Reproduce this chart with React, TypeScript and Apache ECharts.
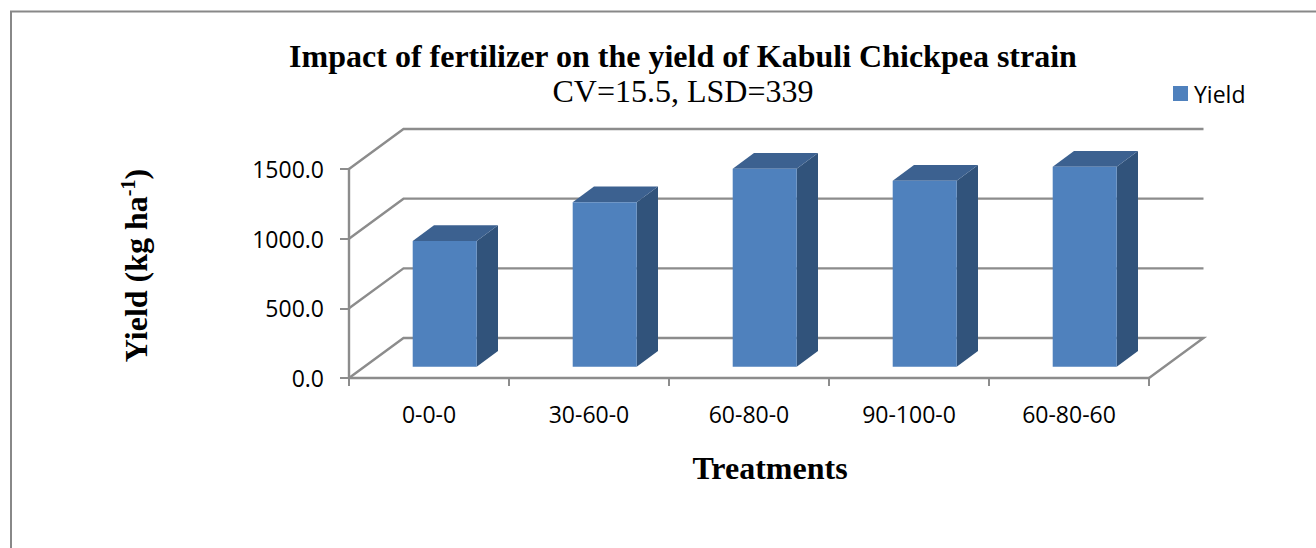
import React, { useEffect, useRef } from "react";
import * as echarts from "echarts";

const categories = ["0-0-0", "30-60-0", "60-80-0", "90-100-0", "60-80-60"];
const yieldValues = [902, 1180, 1421, 1335, 1435];
const gridTicks = [0, 500, 1000, 1500];

const FRONT = "#4F81BD";
const TOP = "#3C6190";
const SIDE = "#31537B";
const LINE = "#8C8C8C";
const SERIF = "'Liberation Serif', 'Times New Roman', serif";
const SANS = "'Open Sans', 'Noto Sans', sans-serif";

// projection of the pseudo-3D box, in pixels
const WALL_DX = 54.5;
const WALL_DY = -40;
const BAR_DX = 15.7;
const BAR_DY = -11.3;
const DEPTH_DX = 21.3;
const DEPTH_DY = -15.7;
const BAR_WIDTH = 64;

export default function App() {
  const ref = useRef<HTMLDivElement>(null);
  useEffect(() => {
    const chart = echarts.init(ref.current!, undefined, { renderer: "svg" });
    chart.setOption({
      animation: false,
      backgroundColor: "#FFFFFF",
      title: {
        text: "Impact of fertilizer on the yield of Kabuli Chickpea strain",
        subtext: "CV=15.5, LSD=339",
        left: 678,
        top: 34,
        textAlign: "center",
        itemGap: 2,
        textStyle: { fontFamily: SERIF, fontWeight: "bold", fontSize: 32, color: "#000", lineHeight: 34 },
        subtextStyle: { fontFamily: SERIF, fontWeight: "normal", fontSize: 32, color: "#000", lineHeight: 32 },
      },
      legend: {
        left: 1173,
        top: 82,
        padding: 0,
        icon: "rect",
        itemWidth: 15,
        itemHeight: 15,
        itemGap: 6,
        data: [{ name: "Yield", itemStyle: { color: FRONT } }],
        textStyle: { fontFamily: SANS, fontSize: 23, color: "#000", padding: [0, 0, 0, 1] },
      },
      grid: { left: 349, top: 169, width: 800, height: 209, containLabel: false },
      xAxis: {
        type: "category",
        data: categories,
        axisLine: { lineStyle: { color: LINE, width: 2.4 } },
        axisTick: { show: true, alignWithLabel: false, length: 8, lineStyle: { color: LINE, width: 2 } },
        axisLabel: { fontFamily: SANS, fontSize: 23, color: "#000", margin: 24 },
        name: "Treatments",
        nameLocation: "middle",
        nameGap: 74,
        nameTextStyle: { fontFamily: SERIF, fontWeight: "bold", fontSize: 32, color: "#000", padding: [0, 0, 0, 42] },
      },
      yAxis: {
        type: "value",
        min: 0,
        max: 1500,
        interval: 500,
        splitLine: { show: false },
        axisLine: { show: true, lineStyle: { color: LINE, width: 2.4 } },
        axisTick: { show: true, length: 9, lineStyle: { color: LINE, width: 2 } },
        axisLabel: { fontFamily: SANS, fontSize: 23, color: "#000", margin: 25, formatter: (v: number) => v.toFixed(1) },
        name: "{b|Yield (kg ha}{s|-1}{b|)}",
        nameLocation: "middle",
        nameRotate: 90,
        nameGap: 195,
        nameTextStyle: {
          padding: [0, 0, 0, 16],
          rich: {
            b: { fontFamily: SERIF, fontWeight: "bold", fontSize: 32, color: "#000", lineHeight: 36 },
            s: { fontFamily: SERIF, fontWeight: "bold", fontSize: 20, color: "#000", lineHeight: 36, verticalAlign: "top" },
          },
        },
      },
      series: [
        {
          name: "walls",
          type: "custom",
          silent: true,
          z: 1,
          encode: { y: 0 },
          data: gridTicks.map((t) => [t]),
          renderItem: (params: any, api: any) => {
            const v = api.value(0);
            const y = api.coord([0, v])[1];
            const { x, width } = params.coordSys;
            const points: number[][] = [
              [x, y],
              [x + WALL_DX, y + WALL_DY],
              [x + width + WALL_DX, y + WALL_DY],
            ];
            if (v === 0) points.push([x + width, y]);
            return {
              type: "polyline",
              shape: { points },
              style: { stroke: LINE, lineWidth: 2.4, fill: "none" },
            };
          },
        },
        {
          name: "Yield",
          type: "custom",
          z: 3,
          itemStyle: { color: FRONT },
          encode: { x: 0, y: 1 },
          data: yieldValues.map((v, i) => [i, v]),
          renderItem: (_params: any, api: any) => {
            const i = api.value(0);
            const top = api.coord([i, api.value(1)]);
            const base = api.coord([i, 0]);
            const l = top[0] + BAR_DX - BAR_WIDTH / 2;
            const r = l + BAR_WIDTH;
            const t = top[1] + BAR_DY;
            const b = base[1] + BAR_DY;
            return {
              type: "group",
              children: [
                {
                  type: "polygon",
                  shape: { points: [[r, t], [r + DEPTH_DX, t + DEPTH_DY], [r + DEPTH_DX, b + DEPTH_DY], [r, b]] },
                  style: { fill: SIDE },
                },
                {
                  type: "polygon",
                  shape: { points: [[l, t], [l + DEPTH_DX, t + DEPTH_DY], [r + DEPTH_DX, t + DEPTH_DY], [r, t]] },
                  style: { fill: TOP },
                },
                {
                  type: "rect",
                  shape: { x: l, y: t, width: BAR_WIDTH, height: b - t },
                  style: { fill: FRONT },
                },
              ],
            };
          },
        },
      ],
      graphic: [
        { type: "line", shape: { x1: 10, y1: 11.5, x2: 1316, y2: 11.5 }, style: { stroke: "#888888", lineWidth: 2 } },
        { type: "line", shape: { x1: 11, y1: 11, x2: 11, y2: 548 }, style: { stroke: "#888888", lineWidth: 2 } },
      ],
    });
    return () => chart.dispose();
  }, []);
  return <div ref={ref} style={{ position: "absolute", left: 0, top: 0, width: 1316, height: 548 }} />;
}
